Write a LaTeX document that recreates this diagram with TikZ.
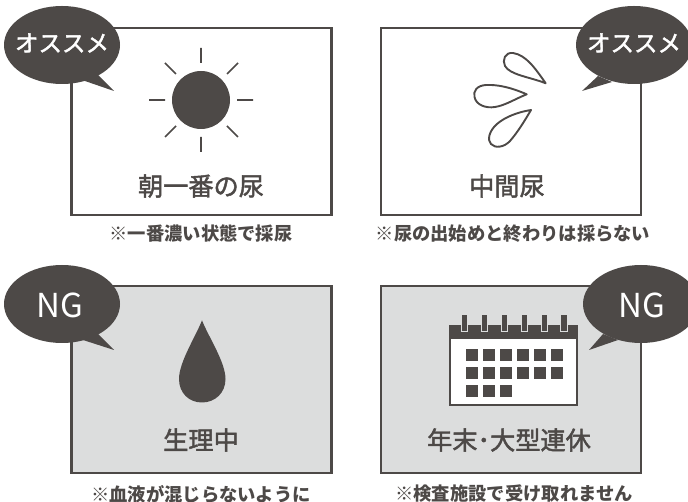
\documentclass[tikz,border=0pt]{standalone}
\usepackage{fontspec}
\setmainfont{Noto Sans CJK JP}
\newfontfamily\medfont[FakeBold=1.8]{Noto Sans CJK JP}
\definecolor{ink}{HTML}{4D4947}
\definecolor{panelgray}{HTML}{DCDDDD}
\tikzset{
  panel/.style={draw=ink,line width=2.6pt},
  bubblefill/.style={fill=ink,draw=none},
  ray/.style={draw=ink,line width=1.7pt},
  dropline/.style={draw=ink,line width=1.9pt,line join=round},
  titletext/.style={text=ink,font=\medfont\fontsize{25.2}{28}\selectfont,inner sep=0pt},
  captext/.style={text=ink,font=\fontsize{18.3}{21}\bfseries\selectfont,inner sep=0pt},
  osusume/.style={text=white,font=\medfont\fontsize{23.5}{26}\selectfont,inner sep=0pt},
  ngtext/.style={text=white,font=\fontsize{33}{36}\selectfont,inner sep=0pt},
  cell/.style={fill=ink,draw=none},
}
\begin{document}
\begin{tikzpicture}[x=1pt,y=-1pt]
\useasboundingbox (0,0) rectangle (688,502);
\clip (0,0) rectangle (688,502);
% panels
\draw[panel] (71.5,28) rectangle (331.5,215);
\draw[panel] (381,28) rectangle (641,215);
\draw[panel,fill=panelgray] (71.5,286) rectangle (331.5,473);
\draw[panel,fill=panelgray] (381,286) rectangle (641,473);
% sun
\fill[ink] (201,100) circle[radius=29];
\draw[ray] (201,48) -- (201,63) (201,137) -- (201,152) (149,100) -- (165,100) (237,100) -- (253,100)
  (165,63) -- (176,74) (238,63) -- (227,74) (165,137) -- (176,126) (238,137) -- (227,126);
% splash drops
\draw[dropline] (545.7,83.3) .. controls (535,68) and (526,55) .. (513,53)
  .. controls (505,52) and (502,60) .. (505,66) .. controls (510,75) and (530,77) .. cycle;
\draw[dropline] (526.7,94.3) .. controls (510,87) and (497,84.5) .. (486,85)
  .. controls (477,85.5) and (473,91) .. (474.5,97) .. controls (476,105) and (486,108.5) .. (495,107)
  .. controls (505,105.5) and (515,99) .. cycle;
\draw[dropline] (531,110) .. controls (518,112) and (505,117) .. (497,124)
  .. controls (489,131) and (487,140) .. (491,144) .. controls (495,148.5) and (504,147.5) .. (510,141)
  .. controls (517,133) and (524,122) .. cycle;
% big drop
\fill[ink] (202,320.3) .. controls (196,336) and (179,362) .. (179,379)
  .. controls (179,393) and (189,402.5) .. (202,402.5)
  .. controls (215,402.5) and (225.5,393) .. (225.5,379)
  .. controls (225.5,362) and (208,336) .. cycle;
% calendar
\draw[draw=ink,fill=white,line width=2pt] (450,326) rectangle (577,405);
\fill[ink] (449,325) rectangle (578,339);
\foreach \rx in {464.5,484.5,504.5,524.5,544.5,564}{
  \fill[panelgray] (\rx-3.8,315) rectangle (\rx+3.8,332);
  \fill[ink] (\rx-2.8,315) rectangle (\rx+2.8,330.8);
}
\foreach \cy in {349,367,385}{
  \foreach \cx in {465.5,482.5,499.5}{\fill[cell] (\cx,\cy) rectangle +(12,12);}
}
\foreach \cy in {349,367}{
  \foreach \cx in {516.5,533.5,550.5}{\fill[cell] (\cx,\cy) rectangle +(12,12);}
}
% speech bubbles
\path[bubblefill] (62,45) ellipse[x radius=58,y radius=39];
\path[bubblefill] (82,80) -- (114,91) -- (98,75) -- cycle;
\path[bubblefill] (634,45) ellipse[x radius=58,y radius=39];
\path[bubblefill] (612,82) -- (582,91) -- (598,76) -- cycle;
\path[bubblefill] (62,304) ellipse[x radius=58,y radius=39];
\path[bubblefill] (83,340) -- (114,350) -- (98,334) -- cycle;
\path[bubblefill] (641,304) ellipse[x radius=58,y radius=39];
\path[bubblefill] (618,340) -- (589,350) -- (603,334) -- cycle;
% texts
\node[osusume] (b1) at (62,43) {オススメ};
\node[osusume] (b2) at (634,43) {オススメ};
\node[ngtext] (b3) at (60,305) {NG};
\node[ngtext] (b4) at (642,305) {NG};
\node[titletext] (t1) at (201,186) {朝一番の尿};
\node[titletext] (t2) at (507,186) {中間尿};
\node[titletext] (t3) at (201,440) {生理中};
\node[titletext] (t4) at (509,440) {年末･大型連休};
\node[captext] (c1) at (201,234) {※一番濃い状態で採尿};
\node[captext] (c2) at (513,234) {※尿の出始めと終わりは採らない};
\node[captext] (c3) at (201,494) {※血液が混じらないように};
\node[captext] (c4) at (514,494) {※検査施設で受け取れません};
\end{tikzpicture}
\end{document}
